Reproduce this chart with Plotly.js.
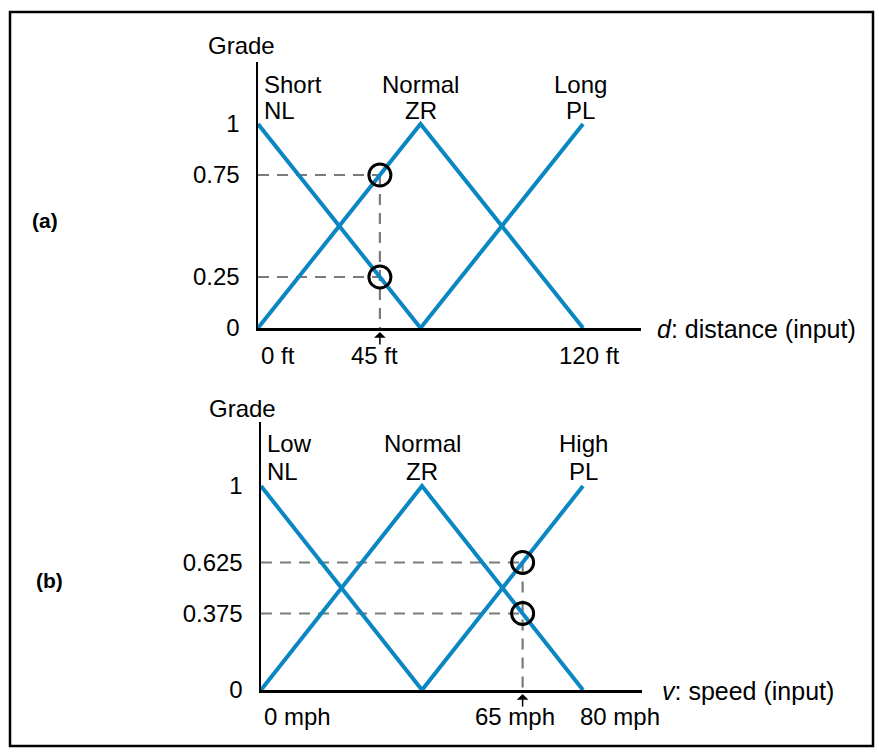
<!DOCTYPE html>
<html>
<head>
<meta charset="utf-8">
<script src="https://cdn.plot.ly/plotly-3.0.1.min.js"></script>
<style>html,body{margin:0;padding:0;background:#fff;}#chart{width:879px;height:753px;}</style>
</head>
<body>
<div id="chart"></div>
<script>
// ---------- data: panel (a) distance ----------
const distSetNames = ['Short', 'Normal', 'Long'];
const distSetCodes = ['NL', 'ZR', 'PL'];
const distShortX = [0, 60];        const distShortY = [1, 0];
const distNormalX = [0, 60, 120];  const distNormalY = [0, 1, 0];
const distLongX = [60, 120];       const distLongY = [0, 1];
const distTickVals = [0, 45, 120];
const distTickText = ['0 ft', '45 ft', '120 ft'];
const distInput = 45;
const distGrades = [0.75, 0.25];
const distGradeTickVals = [0, 0.25, 0.75, 1];
const distGradeTickText = ['0', '0.25', '0.75', '1'];

// ---------- data: panel (b) speed ----------
const speedSetNames = ['Low', 'Normal', 'High'];
const speedSetCodes = ['NL', 'ZR', 'PL'];
const speedLowX = [0, 40];         const speedLowY = [1, 0];
const speedNormalX = [0, 40, 80];  const speedNormalY = [0, 1, 0];
const speedHighX = [40, 80];       const speedHighY = [0, 1];
const speedTickVals = [0, 65, 80];
const speedTickText = ['0 mph', '65 mph', '80 mph'];
const speedInput = 65;
const speedGrades = [0.625, 0.375];
const speedGradeTickVals = [0, 0.375, 0.625, 1];
const speedGradeTickText = ['0', '0.375', '0.625', '1'];

// ---------- styling ----------
const FONT = 'Liberation Sans, Arial, Helvetica, sans-serif';
const BLUE = '#0a87c2';
const DASH = '#7a7a7a';
const W = 879, H = 753;
const py = (p) => (H - p) / H;   // pixel row -> paper fraction

function panelTraces(xa, ya, sets, input, grades) {
  const tr = [];
  grades.forEach(g => {
    tr.push({x: [0, input], y: [g, g], xaxis: xa, yaxis: ya, mode: 'lines',
      line: {color: DASH, width: 2.2, dash: '11px,8px'}, hoverinfo: 'skip'});
  });
  tr.push({x: [input, input], y: [Math.max(...grades), 0], xaxis: xa, yaxis: ya, mode: 'lines',
    line: {color: DASH, width: 2.2, dash: '11px,8px'}, hoverinfo: 'skip'});
  sets.forEach(s => {
    tr.push({x: s[0], y: s[1], xaxis: xa, yaxis: ya, mode: 'lines',
      line: {color: BLUE, width: 4}, hoverinfo: 'skip'});
  });
  tr.push({x: grades.map(() => input), y: grades, xaxis: xa, yaxis: ya, mode: 'markers',
    cliponaxis: false,
    marker: {symbol: 'circle-open', size: 22, color: 'black', line: {width: 3, color: 'black'}},
    hoverinfo: 'skip'});
  return tr;
}

const traces = [].concat(
  panelTraces('x', 'y', [[distShortX, distShortY], [distNormalX, distNormalY], [distLongX, distLongY]], distInput, distGrades),
  panelTraces('x2', 'y2', [[speedLowX, speedLowY], [speedNormalX, speedNormalY], [speedHighX, speedHighY]], speedInput, speedGrades)
);

function axX(domain, range, anchor) {
  return {domain: domain, range: range, anchor: anchor, showline: true, linecolor: 'black', linewidth: 2.5,
    showgrid: false, zeroline: false, showticklabels: false, ticks: '', fixedrange: true};
}
function axY(domain, range, anchor, vals, text) {
  return {domain: domain, range: range, anchor: anchor, showline: true, linecolor: 'black', linewidth: 2.5,
    showgrid: false, zeroline: false, ticks: '', tickvals: vals, ticktext: text,
    tickfont: {family: FONT, size: 24, color: 'black'}, ticklabelstandoff: 11, fixedrange: true};
}

const txt = (o, size) => Object.assign({showarrow: false, font: {family: FONT, size: size || 24, color: 'black'}}, o);

const annotations = [];
const shapes = [];

function panelAnnots(p) {
  const xr = p.xr, yr = p.yr;
  annotations.push(txt({xref: xr, yref: 'paper', x: 0, y: py(p.gradePx), xanchor: 'center', yanchor: 'middle', xshift: p.gradeShift, text: 'Grade'}));
  p.names.forEach((n, i) => {
    const left = i === 0;
    annotations.push(txt({xref: xr, yref: yr, x: p.peaks[i], y: p.nameY, xanchor: left ? 'left' : 'center', yanchor: 'middle', xshift: p.nameShifts[i], text: n}));
    annotations.push(txt({xref: xr, yref: yr, x: p.peaks[i], y: p.codeY, xanchor: left ? 'left' : 'center', yanchor: 'middle', xshift: p.nameShifts[i], text: p.codes[i]}));
  });
  p.tickVals.forEach((v, i) => {
    annotations.push(txt({xref: xr, yref: 'paper', x: v, y: py(p.tickPx), xanchor: i === 0 ? 'left' : 'center', yanchor: 'middle', xshift: p.tickShift[i], text: p.tickText[i]}));
  });
  annotations.push({xref: xr, yref: yr, x: p.input, y: 0, text: '', showarrow: true, ax: 0, ay: 18,
    arrowhead: 1, arrowsize: 1.3, arrowwidth: 1.5, arrowcolor: 'black', standoff: 4});
  annotations.push(txt({xref: xr, yref: yr, x: p.titleX, y: 0, xanchor: 'left', yanchor: 'middle', xshift: p.titleShift, yshift: -1, text: p.title}, 25));
}

const aXRange = [0, 141.4], aYRange = [0, 1.304];
panelAnnots({xr: 'x', yr: 'y', names: distSetNames, codes: distSetCodes, peaks: [0, 60, 120],
  tickVals: distTickVals, tickText: distTickText, tickShift: [1, -5, 6], tickPx: 355,
  input: distInput, title: '<i>d</i>: distance (input)', titleX: aXRange[1], titleShift: 14,
  gradePx: 46, gradeShift: -17, nameY: 1.196, codeY: 1.064, nameShifts: [4, 0, -3]});

const bXRange = [0, 94.66], bYRange = [0, 1.3137];
panelAnnots({xr: 'x2', yr: 'y2', names: speedSetNames, codes: speedSetCodes, peaks: [0, 40, 80],
  tickVals: speedTickVals, tickText: speedTickText, tickShift: [1, -8, 37], tickPx: 716,
  input: speedInput, title: '<i>v</i>: speed (input)', titleX: bXRange[1], titleShift: 18,
  gradePx: 408, gradeShift: -19, nameY: 1.206, codeY: 1.069, nameShifts: [4, 0, 1]});

// grade tick marks at the membership grades
distGrades.forEach(g => shapes.push({type: 'line', xref: 'x', yref: 'y', xsizemode: 'pixel', xanchor: 0, x0: -12, x1: 0, y0: g, y1: g, line: {color: 'black', width: 2.5}}));
speedGrades.forEach(g => shapes.push({type: 'line', xref: 'x2', yref: 'y2', xsizemode: 'pixel', xanchor: 0, x0: -12, x1: 0, y0: g, y1: g, line: {color: 'black', width: 2.5}}));

// panel letters
annotations.push(txt({xref: 'paper', yref: 'paper', x: 45 / W, y: py(221), xanchor: 'center', yanchor: 'middle', text: '<b>(a)</b>'}, 21));
annotations.push(txt({xref: 'paper', yref: 'paper', x: 49 / W, y: py(580), xanchor: 'center', yanchor: 'middle', text: '<b>(b)</b>'}, 21));

// outer frame
shapes.push({type: 'rect', xref: 'paper', yref: 'paper', x0: 10 / W, x1: 873 / W, y0: py(746), y1: py(12), line: {color: 'black', width: 2.5}, fillcolor: 'rgba(0,0,0,0)'});

const layout = {
  width: W, height: H,
  margin: {l: 0, r: 0, t: 0, b: 0, pad: 0},
  paper_bgcolor: 'white', plot_bgcolor: 'white',
  showlegend: false, hovermode: false,
  font: {family: FONT, size: 24, color: 'black'},
  xaxis: axX([258 / W, 641 / W], aXRange, 'y'),
  yaxis: axY([py(328), py(62)], aYRange, 'x', distGradeTickVals, distGradeTickText),
  xaxis2: axX([261 / W, 642 / W], bXRange, 'y2'),
  yaxis2: axY([py(690), py(422)], bYRange, 'x2', speedGradeTickVals, speedGradeTickText),
  annotations: annotations,
  shapes: shapes
};

Plotly.newPlot('chart', traces, layout, {displayModeBar: false, staticPlot: true});
</script>
</body>
</html>
